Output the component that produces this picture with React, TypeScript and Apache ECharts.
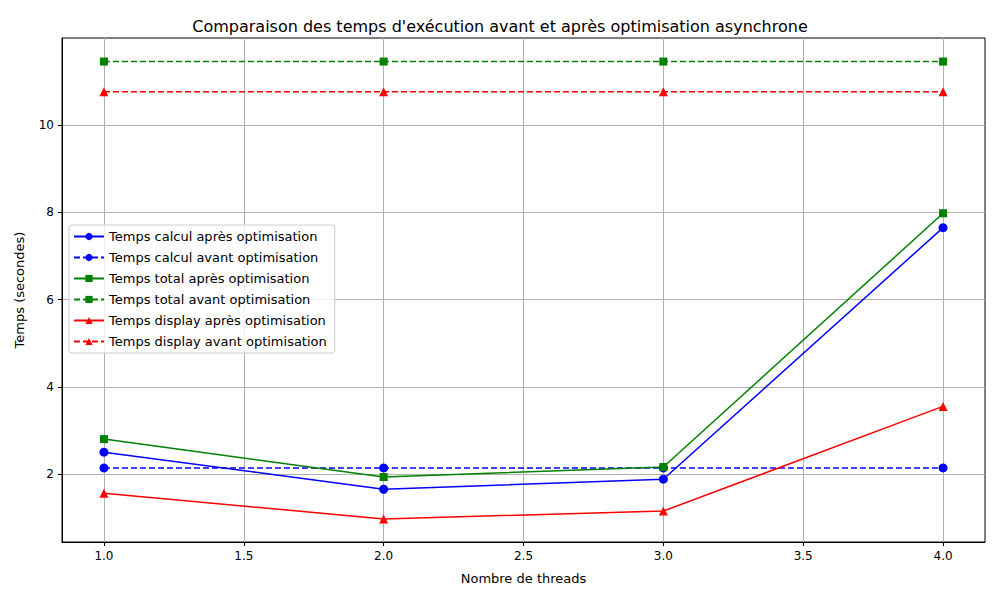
import * as echarts from 'echarts';
import React, { useEffect, useRef } from 'react';

const threads = [1, 2, 3, 4];
const calcApres = [2.5, 1.65, 1.88, 7.65];
const calcAvant = [2.14, 2.14, 2.14, 2.14];
const totalApres = [2.8, 1.93, 2.16, 7.98];
const totalAvant = [11.46, 11.46, 11.46, 11.46];
const displayApres = [1.56, 0.97, 1.15, 3.55];
const displayAvant = [10.77, 10.77, 10.77, 10.77];
const xTicks = [1, 1.5, 2, 2.5, 3, 3.5, 4];
const yTicks = [2, 4, 6, 8, 10];

const pairs = (ys: number[]) => threads.map((x, i) => [x, ys[i]]);

const App: React.FC = () => {
  const chartRef = useRef<HTMLDivElement>(null);
  useEffect(() => {
    if (!chartRef.current) return;
    const chart = echarts.init(chartRef.current, null, { renderer: 'svg' });

    const mk = (name: string, data: number[], color: string, symbol: string, dashed: boolean) => ({
      name,
      type: 'line',
      data: pairs(data),
      symbol,
      symbolSize: symbol === 'rect' ? 8 : 9,
      showSymbol: true,
      itemStyle: { color },
      lineStyle: { color, width: 1.5, type: dashed ? [6, 3] : 'solid' },
    });

    const option: any = {
      animation: false,
      textStyle: { fontFamily: 'DejaVu Sans' },
      title: {
        text: "Comparaison des temps d'exécution avant et après optimisation asynchrone",
        left: 'center',
        top: 13,
        textStyle: { fontSize: 16, fontWeight: 'normal', color: '#000' },
      },
      legend: {
        orient: 'vertical',
        left: 69,
        top: 225,
        itemWidth: 30,
        itemHeight: 9,
        itemGap: 8,
        padding: [5, 8, 5, 4],
        borderColor: '#ccc',
        borderWidth: 1,
        borderRadius: 3,
        backgroundColor: 'rgba(255,255,255,0.8)',
        textStyle: { fontSize: 13, color: '#000' },
      },
      grid: { left: 62, right: 15, top: 38, bottom: 58, show: true, borderColor: '#000', borderWidth: 1 },
      xAxis: {
        type: 'value',
        min: 0.85,
        max: 4.15,
        name: 'Nombre de threads',
        nameLocation: 'middle',
        nameGap: 30,
        nameTextStyle: { fontSize: 13, color: '#000' },
        axisLine: { onZero: false, lineStyle: { color: '#000' } },
        axisTick: { show: true, customValues: xTicks, length: 4, lineStyle: { color: '#000' } },
        axisLabel: { customValues: xTicks, color: '#000', fontSize: 12, formatter: (v: number) => v.toFixed(1) },
        splitLine: { show: true, lineStyle: { color: '#b0b0b0', width: 1 } },
      },
      yAxis: {
        type: 'value',
        min: 0.44,
        max: 12,
        name: 'Temps (secondes)',
        nameLocation: 'middle',
        nameGap: 36,
        nameTextStyle: { fontSize: 13, color: '#000' },
        axisLine: { show: true, onZero: false, lineStyle: { color: '#000' } },
        axisTick: { show: true, customValues: yTicks, length: 4, lineStyle: { color: '#000' } },
        axisLabel: { customValues: yTicks, color: '#000', fontSize: 12 },
        splitLine: { show: true, lineStyle: { color: '#b0b0b0', width: 1 } },
      },
      series: [
        mk('Temps calcul après optimisation', calcApres, '#0000ff', 'circle', false),
        mk('Temps calcul avant optimisation', calcAvant, '#0000ff', 'circle', true),
        mk('Temps total après optimisation', totalApres, '#008000', 'rect', false),
        mk('Temps total avant optimisation', totalAvant, '#008000', 'rect', true),
        mk('Temps display après optimisation', displayApres, '#ff0000', 'triangle', false),
        mk('Temps display avant optimisation', displayAvant, '#ff0000', 'triangle', true),
      ],
    };

    chart.setOption(option);
    return () => chart.dispose();
  }, []);

  return (
    <div
      ref={chartRef}
      style={{ position: 'absolute', left: 0, top: 0, width: '1000px', height: '600px', background: '#fff' }}
    />
  );
};

export default App;
